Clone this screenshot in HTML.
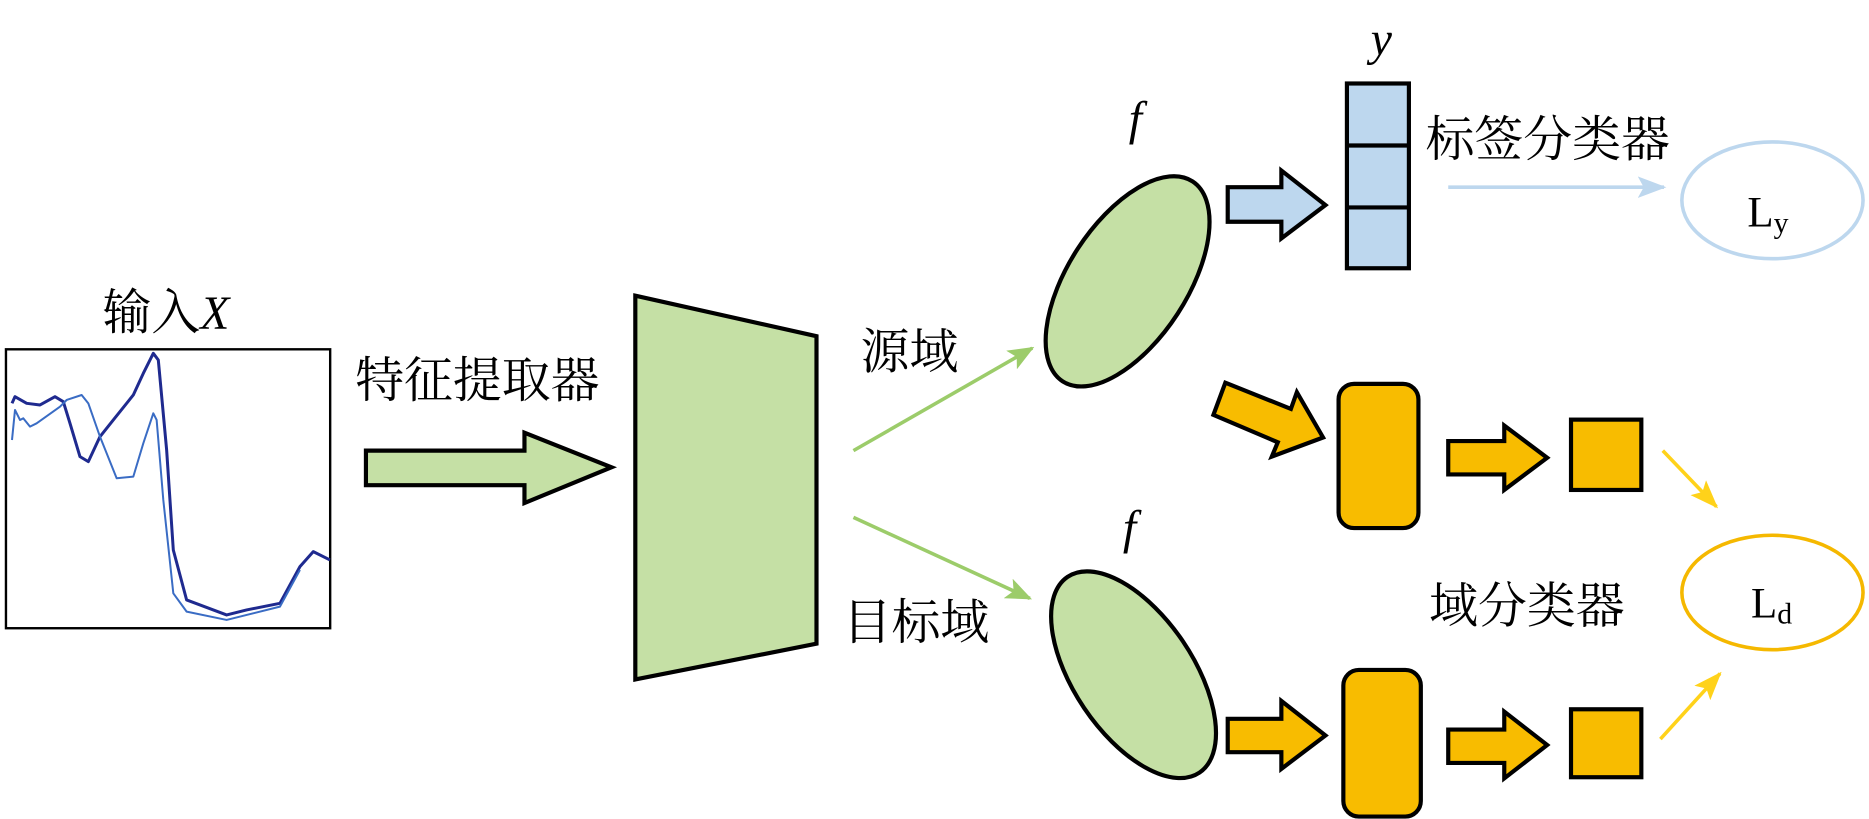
<!DOCTYPE html>
<html><head><meta charset="utf-8"><style>
html,body{margin:0;padding:0;background:#fff;}
svg{display:block;}
.cn{font-family:"Noto Serif CJK SC","Liberation Serif",serif;font-size:41px;fill:#000;}
.it{font-family:"Liberation Serif",serif;font-style:italic;font-size:40px;fill:#000;}
.L{font-family:"Liberation Serif",serif;font-size:36px;fill:#000;}
</style></head><body>
<svg width="1869" height="819" viewBox="0 0 1568 687" xmlns="http://www.w3.org/2000/svg">
<defs>
<marker id="agb" markerWidth="22" markerHeight="18" refX="20" refY="9" orient="auto" markerUnits="userSpaceOnUse"><path d="M0,0 L22,9 L0,18 L5,9 Z" fill="#9ccc6a"/></marker>
<marker id="ab" markerWidth="24" markerHeight="18" refX="22" refY="9" orient="auto" markerUnits="userSpaceOnUse"><path d="M0,0 L24,9 L0,18 L5,9 Z" fill="#bdd7ee"/></marker>
<marker id="ay" markerWidth="24" markerHeight="18" refX="22" refY="9" orient="auto" markerUnits="userSpaceOnUse"><path d="M0,0 L24,9 L0,18 L5,9 Z" fill="#ffd21a"/></marker>
</defs>

<text class="cn" x="86" y="276">输入<tspan class="it">X</tspan></text>
<rect x="5" y="293" width="272" height="234" fill="#fff" stroke="#000" stroke-width="2"/>
<g transform="translate(0,209.7) scale(0.2796)" fill="none" stroke-linejoin="round">
<polyline stroke="#1f2a8f" stroke-width="9" points="36,460 45,440 80,460 120,465 165,440 190,455 210,520 240,620 265,635 300,560 340,510 400,435 430,370 460,310 475,330 500,600 520,900 560,1050 680,1095 740,1080 840,1060 900,950 940,905 990,930"/>
<polyline stroke="#3a6cc4" stroke-width="6" points="36,570 45,480 60,510 70,505 90,530 110,520 180,470 200,450 245,435 265,460 300,560 350,685 400,680 430,580 460,490 470,510 490,750 520,1030 560,1085 680,1110 740,1095 840,1070 900,960"/>
</g>

<text class="cn" x="298" y="333">特征提取器</text>
<path d="M307,378 L440,378 L440,363 L513,392 L440,422 L440,407 L307,407 Z" fill="#c5e0a5" stroke="#000" stroke-width="3.5"/>
<path d="M533,248 L685,282 L685,540 L533,570 Z" fill="#c5e0a5" stroke="#000" stroke-width="3.5"/>

<text class="cn" x="722" y="309">源域</text>
<text class="cn" x="707" y="536">目标域</text>
<line x1="716" y1="378" x2="866" y2="292" stroke="#9ccc6a" stroke-width="3" marker-end="url(#agb)"/>
<line x1="716" y1="434" x2="864" y2="502" stroke="#9ccc6a" stroke-width="3" marker-end="url(#agb)"/>

<ellipse cx="946" cy="236" rx="50" ry="100" transform="rotate(33 946 236)" fill="#c5e0a5" stroke="#000" stroke-width="3.5"/>
<ellipse cx="951" cy="566" rx="50" ry="99" transform="rotate(-34 951 566)" fill="#c5e0a5" stroke="#000" stroke-width="3.5"/>
<text class="it" x="947" y="113">f</text>
<text class="it" x="942" y="456">f</text>

<path d="M1030,157 L1075,157 L1075,143 L1112,172 L1075,200 L1075,186 L1030,186 Z" fill="#bdd7ee" stroke="#000" stroke-width="3.5"/>
<rect x="1130" y="70" width="52" height="155" fill="#bdd7ee" stroke="#000" stroke-width="3.5"/>
<line x1="1130" y1="122" x2="1182" y2="122" stroke="#000" stroke-width="3.5"/>
<line x1="1130" y1="174" x2="1182" y2="174" stroke="#000" stroke-width="3.5"/>
<text class="it" x="1150" y="46">y</text>
<text class="cn" x="1196" y="131">标签分类器</text>
<line x1="1215" y1="157" x2="1396" y2="157" stroke="#bdd7ee" stroke-width="3" marker-end="url(#ab)"/>
<ellipse cx="1487" cy="168" rx="76" ry="49" fill="none" stroke="#bdd7ee" stroke-width="3"/>
<text class="L" x="1466" y="190">L<tspan font-size="25" dy="5">y</tspan></text>

<path d="M1028,321 L1018,348 L1072,371 L1067,383 L1110,367 L1088,329 L1083,343 Z" fill="#f8bc00" stroke="#000" stroke-width="3.5" stroke-linejoin="miter"/>
<rect x="1123" y="322" width="67" height="121" rx="13" fill="#f8bc00" stroke="#000" stroke-width="3.5"/>
<path d="M1215,370 L1262,370 L1262,357 L1298,384 L1262,411 L1262,398 L1215,398 Z" fill="#f8bc00" stroke="#000" stroke-width="3.5"/>
<rect x="1318" y="352" width="59" height="59" fill="#f8bc00" stroke="#000" stroke-width="3.5"/>
<line x1="1395" y1="378" x2="1440" y2="425" stroke="#ffd21a" stroke-width="3" marker-end="url(#ay)"/>

<text class="cn" x="1199" y="522">域分类器</text>
<ellipse cx="1487" cy="497" rx="76" ry="48" fill="none" stroke="#f5b800" stroke-width="3"/>
<text class="L" x="1469" y="518">L<tspan font-size="25" dy="5">d</tspan></text>

<path d="M1030,603 L1075,603 L1075,588 L1112,617 L1075,645 L1075,631 L1030,631 Z" fill="#f8bc00" stroke="#000" stroke-width="3.5"/>
<rect x="1127" y="562" width="65" height="123" rx="13" fill="#f8bc00" stroke="#000" stroke-width="3.5"/>
<path d="M1215,612 L1262,612 L1262,597 L1298,625 L1262,653 L1262,640 L1215,640 Z" fill="#f8bc00" stroke="#000" stroke-width="3.5"/>
<rect x="1318" y="595" width="59" height="57" fill="#f8bc00" stroke="#000" stroke-width="3.5"/>
<line x1="1393" y1="620" x2="1443" y2="565" stroke="#ffd21a" stroke-width="3" marker-end="url(#ay)"/>
</svg>
</body></html>
